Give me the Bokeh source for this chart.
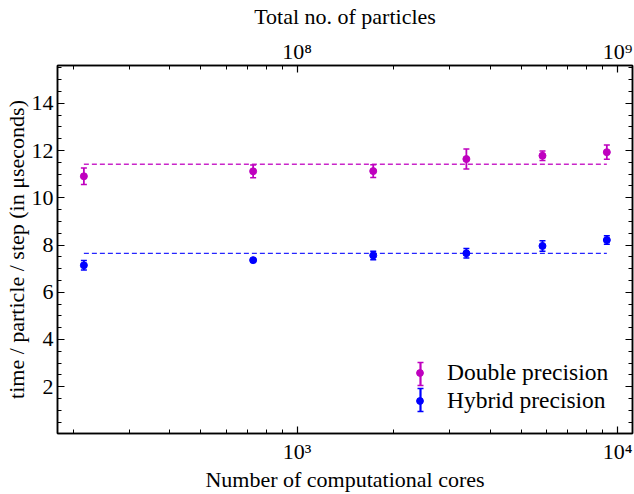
import numpy as np
from bokeh.plotting import figure
from bokeh.models import (Range1d, LogAxis, LinearAxis, FixedTicker, CustomJSTickFormatter,
                          ColumnDataSource, Whisker, TeeHead, Legend, LegendItem, LogScale)
from bokeh.embed import file_html
from bokeh.resources import INLINE

# ---- data ----
cores = [216, 729, 1728, 3375, 5832, 9261]
double_t = [10.91, 11.12, 11.13, 11.64, 11.78, 11.93]
double_err = [0.35, 0.27, 0.27, 0.42, 0.20, 0.30]
hybrid_t = [7.14, 7.36, 7.56, 7.65, 7.96, 8.21]
hybrid_err = [0.20, 0.05, 0.18, 0.20, 0.22, 0.18]
particles_per_core = 1e5

x_lo, x_hi = 178.7, 11137.0
y_lo, y_hi = 0.02, 15.6
y_major = [2, 4, 6, 8, 10, 12, 14]
y_minor = [v / 2 for v in range(1, 32)]
x_major = [100, 1000, 10000]
x_minor = [m * 10 ** e for e in (2, 3) for m in range(2, 10)]
top_major = [1e8, 1e9]
top_minor = [m * 10 ** e for e in (7, 8) for m in range(2, 10)]

MAG = "#bf00bf"
BLU = "#0000ff"
FONT = "Liberation Serif"
FS = "22px"

p = figure(width=634, height=494, x_axis_type="log",
           x_range=Range1d(x_lo, x_hi), y_range=Range1d(y_lo, y_hi),
           output_backend="svg", toolbar_location=None,
           min_border_left=56, min_border_right=2, min_border_top=63, min_border_bottom=59)
p.grid.visible = False
p.outline_line_color = "black"
p.outline_line_width = 1.5
p.background_fill_color = "white"
p.border_fill_color = "white"

sup_js = """
const sup = {"0":"\u2070","1":"\u00b9","2":"\u00b2","3":"\u00b3","4":"\u2074","5":"\u2075",
             "6":"\u2076","7":"\u2077","8":"\u2078","9":"\u2079","-":"\u207b"};
const e = Math.round(Math.log10(tick));
return "10" + String(e).split("").map(c => sup[c]).join("");
"""

def style_axis(ax):
    ax.major_tick_in = 7
    ax.major_tick_out = 0
    ax.minor_tick_in = 4
    ax.minor_tick_out = 0
    ax.axis_line_color = "black"
    ax.axis_line_width = 1.5
    ax.major_tick_line_width = 1.2
    ax.minor_tick_line_width = 1.0
    ax.major_label_text_font = FONT
    ax.major_label_text_font_size = FS
    ax.major_label_text_color = "black"
    ax.axis_label_text_font = FONT
    ax.axis_label_text_font_size = FS
    ax.axis_label_text_font_style = "normal"
    ax.axis_label_text_color = "black"

# bottom axis
xb = p.xaxis[0]
xb.ticker = FixedTicker(ticks=x_major, minor_ticks=x_minor)
xb.formatter = CustomJSTickFormatter(code=sup_js)
xb.axis_label = "Number of computational cores"
style_axis(xb)
xb.major_label_standoff = 5
xb.axis_label_standoff = 0

# left axis
yl = p.yaxis[0]
yl.ticker = FixedTicker(ticks=y_major, minor_ticks=y_minor)
yl.axis_label = "time / particle / step (in \u03bcseconds)"
style_axis(yl)
yl.major_label_standoff = 4
yl.axis_label_standoff = 0

# top axis (total particles)
p.extra_x_ranges = {"particles": Range1d(x_lo * particles_per_core, x_hi * particles_per_core)}
p.extra_x_scales = {"particles": LogScale()}
xt = LogAxis(x_range_name="particles", axis_label="Total no. of particles",
             ticker=FixedTicker(ticks=top_major, minor_ticks=top_minor),
             formatter=CustomJSTickFormatter(code=sup_js))
style_axis(xt)
xt.major_label_standoff = 2
xt.axis_label_standoff = 7
p.add_layout(xt, "above")

# right axis (ticks only)
yr = LinearAxis(ticker=FixedTicker(ticks=y_major, minor_ticks=y_minor),
                formatter=CustomJSTickFormatter(code='return ""'))
style_axis(yr)
yr.major_label_standoff = 0
p.add_layout(yr, "right")

# mean lines
d_mean = float(np.mean(double_t))
h_mean = float(np.mean(hybrid_t))
p.line(x=[cores[0], cores[-1]], y=[d_mean, d_mean], line_color=MAG, line_width=1.3,
       line_dash="5 3", line_alpha=0.85)
p.line(x=[cores[0], cores[-1]], y=[h_mean, h_mean], line_color=BLU, line_width=1.3,
       line_dash="5 3", line_alpha=0.85)

def series(vals, errs, color):
    src = ColumnDataSource(dict(x=cores, y=vals,
                                lower=[v - e for v, e in zip(vals, errs)],
                                upper=[v + e for v, e in zip(vals, errs)]))
    w = Whisker(source=src, base="x", lower="lower", upper="upper", dimension="height",
                line_color=color, line_width=1.8,
                upper_head=TeeHead(size=6, line_color=color, line_width=1.5),
                lower_head=TeeHead(size=6, line_color=color, line_width=1.5))
    p.add_layout(w)
    return p.scatter(x="x", y="y", source=src, marker="circle", size=7,
                     fill_color=color, line_color=color)

dot_d = series(double_t, double_err, MAG)
dot_h = series(hybrid_t, hybrid_err, BLU)

# legend (keys: dot from the series renderers + error-bar keys in screen units)
leg = Legend(items=[LegendItem(label="Double precision", renderers=[dot_d]),
                    LegendItem(label="Hybrid precision", renderers=[dot_h])],
             location=(354, 19), border_line_color=None, background_fill_alpha=0,
             label_text_font=FONT, label_text_font_size="23.5px", label_text_color="black",
             label_standoff=19, glyph_width=17, glyph_height=17, label_height=24,
             spacing=1, padding=0, margin=0)
p.add_layout(leg)

for color, lo, hi in ((MAG, 48, 71), (BLU, 22, 45)):
    key_src = ColumnDataSource(dict(base=[363], lower=[lo], upper=[hi]))
    p.add_layout(Whisker(source=key_src, base="base", lower="lower", upper="upper",
                         dimension="height", base_units="screen", lower_units="screen",
                         upper_units="screen", line_color=color, line_width=2.2,
                         upper_head=TeeHead(size=6, line_color=color, line_width=1.5),
                         lower_head=TeeHead(size=6, line_color=color, line_width=1.5)))

open("out.html", "w").write(file_html(p, INLINE))
